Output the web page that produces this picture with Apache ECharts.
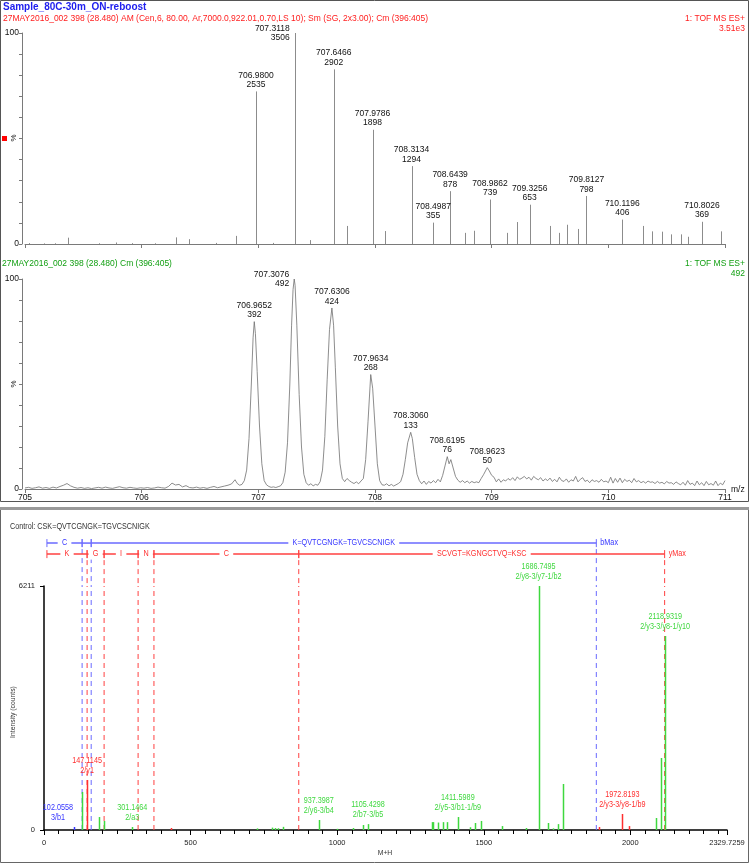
<!DOCTYPE html>
<html><head><meta charset="utf-8">
<script src="https://cdn.jsdelivr.net/npm/echarts@6/dist/echarts.min.js"></script>
<style>html,body{margin:0;padding:0;background:#fff}#c{width:750px;height:864px}</style>
</head><body><div id="c"></div><script>
const FONT = "'Liberation Sans', Arial, sans-serif";
const NARROW = "'Liberation Sans Narrow', 'Liberation Sans', Arial, sans-serif";
const NX = 0.85;

// ---------- top panel (centroided spectrum) ----------
const topBasePeak = 3506;
const topLabMz = [706.9800, 707.3118, 707.6466, 707.9786, 708.3134, 708.4987, 708.6439, 708.9862, 709.3256, 709.8127, 710.1196, 710.8026];
const topLabCounts = [2535, 3506, 2902, 1898, 1294, 355, 878, 739, 653, 798, 406, 369];
const topMinorMz = [705.034, 705.163, 705.257, 705.368, 705.634, 705.780, 705.917, 706.114, 706.294, 706.405, 706.637, 706.808, 707.125, 707.442, 707.759, 708.085, 708.770, 708.847, 709.130, 709.216, 709.499, 709.576, 709.644, 709.739, 710.296, 710.373, 710.459, 710.535, 710.621, 710.681, 710.964];
const topMinorCounts = [15, 10, 12, 105, 12, 25, 14, 12, 110, 80, 18, 135, 18, 65, 300, 215, 185, 220, 185, 365, 300, 185, 320, 250, 300, 210, 205, 160, 160, 120, 210];

// ---------- middle panel (profile spectrum, % of 492) ----------
const profBasePeak = 492;
const profLabMz = [706.9652, 707.3076, 707.6306, 707.9634, 708.3060, 708.6195, 708.9623];
const profLabCounts = [392, 492, 424, 268, 133, 76, 50];
const profileTrace = [
[705.00,0.5],[705.03,0.8],[705.06,0.3],[705.09,0.6],[705.12,1.0],[705.15,0.4],[705.18,0.7],[705.21,0.3],[705.24,0.9],[705.27,0.5],
[705.30,1.2],[705.33,1.8],[705.36,2.6],[705.39,1.5],[705.42,0.8],[705.45,0.4],[705.48,0.7],[705.51,0.3],[705.54,0.6],[705.57,0.2],
[705.60,0.5],[705.63,0.8],[705.66,0.4],[705.69,0.9],[705.72,0.5],[705.75,0.3],[705.78,0.7],[705.81,1.1],[705.84,0.6],[705.87,0.4],
[705.90,0.8],[705.93,0.5],[705.96,0.3],[705.99,0.6],[706.02,0.4],[706.05,0.7],[706.08,0.3],[706.11,0.5],[706.14,0.9],[706.17,0.6],
[706.20,0.4],[706.23,1.2],[706.26,2.8],[706.29,1.9],[706.32,2.2],[706.35,1.0],[706.38,1.6],[706.41,0.7],[706.44,0.5],[706.47,0.9],
[706.50,0.4],[706.53,0.7],[706.56,0.3],[706.59,0.8],[706.62,1.2],[706.65,0.6],[706.68,1.0],[706.71,1.4],[706.74,1.8],[706.77,2.4],
[706.80,4.4],[706.82,2.6],[706.84,1.8],[706.86,2.2],[706.88,4.0],[706.90,9],[706.92,24],[706.94,50],[706.955,72],[706.9652,79.7],
[706.975,74],[706.99,56],[707.01,30],[707.03,12],[707.05,4],[707.07,2.0],[707.09,1.2],[707.11,0.8],[707.13,1.0],[707.15,0.7],
[707.17,1.1],[707.19,1.5],[707.21,3],[707.23,8],[707.25,22],[707.27,50],[707.285,78],[707.2976,95],[707.3076,100],[707.315,97],
[707.33,78],[707.35,45],[707.37,20],[707.39,7],[707.41,3],[707.43,1.8],[707.45,2.5],[707.47,1.5],[707.49,2.2],[707.51,1.8],
[707.53,3.5],[707.55,9],[707.57,25],[707.59,52],[707.61,76],[707.6306,86.2],[707.645,78],[707.66,58],[707.68,30],[707.70,12],
[707.72,5],[707.74,3.5],[707.76,5],[707.78,4],[707.80,3.2],[707.82,2.6],[707.84,3.4],[707.86,2.5],[707.88,3.8],[707.90,5],
[707.92,14],[707.94,32],[707.9634,54.5],[707.98,48],[708.00,30],[708.02,12],[708.04,4],[708.06,2.0],[708.08,1.8],[708.10,2.5],
[708.12,1.5],[708.14,2.2],[708.16,1.4],[708.18,2.0],[708.20,2.6],[708.22,3.5],[708.24,7],[708.26,14],[708.28,22],[708.306,27],
[708.32,24],[708.34,15],[708.36,7],[708.38,4],[708.40,2.5],[708.42,3.8],[708.44,2.2],[708.46,3.6],[708.48,2.8],[708.50,4.0],
[708.52,3.0],[708.54,4.6],[708.56,3.4],[708.58,6.5],[708.60,11],[708.6195,15.4],[708.635,12],[708.65,14],[708.67,10],[708.69,6],
[708.71,4.2],[708.73,3.2],[708.75,4.0],[708.77,3.0],[708.79,3.8],[708.81,2.8],[708.83,3.6],[708.85,3.0],[708.87,3.4],[708.89,3.0],
[708.91,5.0],[708.93,6.8],[708.9623,10.2],[708.98,8.6],[709.00,6.5],[709.02,5.6],[709.04,3.4],[709.06,4.8],[709.08,3.2],[709.10,4.4],
[709.12,3.8],[709.14,5.0],[709.16,4.2],[709.18,5.4],[709.20,4.0],[709.22,5.8],[709.24,4.6],[709.26,5.2],[709.28,6.0],[709.30,4.8],
[709.32,5.6],[709.34,4.2],[709.36,6.0],[709.38,5.0],[709.40,4.4],[709.42,5.4],[709.44,3.8],[709.46,4.8],[709.48,4.0],[709.50,5.2],
[709.52,3.6],[709.54,4.6],[709.56,3.4],[709.58,5.6],[709.60,4.0],[709.62,3.6],[709.64,4.8],[709.66,3.2],[709.68,4.4],[709.70,3.8],
[709.72,6.0],[709.74,3.4],[709.76,4.6],[709.78,5.4],[709.80,3.6],[709.82,4.2],[709.84,3.0],[709.86,4.4],[709.88,3.6],[709.90,4.0],
[709.92,3.2],[709.94,4.6],[709.96,3.4],[709.98,3.8],[710.00,3.0],[710.02,5.6],[710.04,2.8],[710.06,5.0],[710.08,3.2],[710.10,5.2],
[710.12,3.0],[710.14,4.6],[710.16,3.6],[710.18,4.2],[710.20,3.0],[710.22,5.0],[710.24,3.4],[710.26,4.0],[710.28,3.0],[710.30,3.6],
[710.32,2.8],[710.34,3.8],[710.36,3.2],[710.38,3.4],[710.40,2.6],[710.42,3.6],[710.44,2.8],[710.46,3.2],[710.48,2.4],[710.50,3.6],
[710.52,2.8],[710.54,3.0],[710.56,2.2],[710.58,3.4],[710.60,2.6],[710.62,2.0],[710.64,3.2],[710.66,1.8],[710.68,4.0],[710.70,2.2],
[710.72,2.8],[710.74,1.6],[710.76,3.8],[710.78,2.0],[710.80,3.0],[710.82,1.6],[710.84,3.6],[710.86,2.0],[710.88,2.6],[710.90,1.8],
[710.92,3.8],[710.94,1.6],[710.96,2.8],[710.98,2.0],[711.00,4.0]
];

// ---------- bottom panel (fragment spectrum) ----------
const fragMax = 6211;
const massMax = 2329.7259;
const fragLabMz = [102.0558, 147.1145, 301.1464, 937.3987, 1105.4298, 1411.5989, 1686.7495, 1972.8193, 2118.9319];
const fragLabCounts = [76, 1273, 76, 254, 150, 330, 6211, 407, 4938];
const fragLabType = ['b', 'y', 'o', 'o', 'o', 'o', 'o', 'y', 'o'];
const fragLabAnno = ['3/b1', '2/y1', '2/a3', '2/y6-3/b4', '2/b7-3/b5', '2/y5-3/b1-1/b9', '2/y8-3/y7-1/b2', '2/y3-3/y8-1/b9', '2/y3-3/y8-1/y10'];
const otherGreenMz = [130, 187, 205, 726, 777, 787, 797, 815, 1000, 1055, 1087, 1324, 1328, 1343, 1360, 1373, 1452, 1470, 1489, 1561, 1643, 1718, 1736, 1753, 1770, 2087, 2104];
const otherGreenCounts = [967, 330, 230, 40, 60, 50, 45, 80, 30, 50, 127, 200, 200, 190, 200, 200, 70, 178, 230, 100, 50, 178, 40, 150, 1171, 305, 1833];
const otherRedMz = [432, 1892, 1994];
const otherRedCounts = [50, 76, 100];

// sequence coverage header
const seqTitle = 'Control: CSK=QVTCGNGK=TGVCSCNIGK';
const ladderStart = 10;
const bCuts = [130, 161, 1884];
const bSegLabels = ['C', '', 'K=QVTCGNGK=TGVCSCNIGK'];
const yCuts = [147, 205, 321, 375, 869, 2117];
const ySegLabels = ['K', 'G', 'I', 'N', 'C', 'SCVGT=KGNGCTVQ=KSC'];
const bEndLabel = 'bMax';
const yEndLabel = 'yMax';

const COLORS = { b: '#3434ff', y: '#ff2f2f', o: '#3fd83f' };
const LADDER = { b: '#6a6aff', y: '#ff4040' };

function stick(color, width) {
  return function (params, api) {
    const x = api.value(0), v = api.value(1);
    const p0 = api.coord([x, 0]), p1 = api.coord([x, v]);
    const px = Math.round(p0[0]) + 0.5;
    return { type: 'line', shape: { x1: px, y1: p0[1], x2: px, y2: p1[1] }, style: { stroke: color, lineWidth: width } };
  };
}

function peakLabel(base, pctMode) {
  return function (params, api) {
    const m = api.value(0), c = api.value(1);
    const pt = api.coord([m, pctMode ? c / base * 100 : c]);
    const isMax = c >= base;
    return {
      type: 'text',
      x: isMax ? pt[0] - 5 : pt[0],
      y: isMax ? pt[1] : pt[1] - 2,
      style: {
        text: m.toFixed(4) + '\n' + c,
        fill: '#111', font: '8.5px ' + FONT, lineHeight: 9.5,
        align: isMax ? 'right' : 'center', verticalAlign: isMax ? 'middle' : 'bottom'
      }
    };
  };
}

const topAll = topMinorMz.map((m, i) => [m, topMinorCounts[i]]).concat(topLabMz.map((m, i) => [m, topLabCounts[i]]));

// ladder segments
const ladderData = [];
[['b', bCuts], ['y', yCuts]].forEach(([t, cuts]) => {
  let prev = ladderStart;
  cuts.forEach((c, i) => { ladderData.push([prev, c, t === 'b' ? 0 : 1, i, i === cuts.length - 1 ? 1 : 0]); prev = c; });
});
const cutLines = bCuts.map(c => [c, 0]).concat(yCuts.map(c => [c, 1]));

const option = {
  animation: false,
  grid: [
    { left: 25, right: 25, top: 33, height: 211 },
    { left: 25, right: 25, top: 279, height: 210 },
    { left: 44, right: 23, top: 528, height: 58 },
    { left: 44, right: 23, top: 586, height: 244 }
  ],
  xAxis: [
    { gridIndex: 0, type: 'value', min: 705, max: 711, interval: 1, axisLine: { lineStyle: { color: '#7a7a7a' } }, axisTick: { length: 4, lineStyle: { color: '#7a7a7a' } }, axisLabel: { show: false }, splitLine: { show: false } },
    { gridIndex: 1, type: 'value', min: 705, max: 711, interval: 1, axisLine: { lineStyle: { color: '#7a7a7a' } }, axisTick: { length: 4, lineStyle: { color: '#7a7a7a' } }, axisLabel: { color: '#111', fontSize: 8.5, fontFamily: FONT, margin: 4 }, splitLine: { show: false } },
    { gridIndex: 2, type: 'value', min: 0, max: massMax, show: false },
    { gridIndex: 3, type: 'value', min: 0, max: massMax, interval: 500, axisLine: { lineStyle: { color: '#000', width: 1.5 } }, axisTick: { length: 5, lineStyle: { color: '#000' } }, axisLabel: { color: '#222', fontSize: 7.5, fontFamily: NARROW, margin: 9, showMaxLabel: true, formatter: v => (v > 2300 ? '2329.7259' : String(v)) }, splitLine: { show: false } },
    { gridIndex: 3, type: 'value', min: 0, max: massMax, interval: 50, position: 'bottom', axisLine: { show: false }, axisTick: { length: 4, lineStyle: { color: '#000' } }, axisLabel: { show: false }, splitLine: { show: false } }
  ],
  yAxis: [
    { gridIndex: 0, type: 'value', min: 0, max: topBasePeak, interval: topBasePeak / 10, offset: 3, axisLine: { show: true, lineStyle: { color: '#7a7a7a' } }, axisTick: { show: true, length: 3, lineStyle: { color: '#7a7a7a' } }, axisLabel: { color: '#111', fontSize: 8.5, fontFamily: FONT, margin: 3, formatter: v => (v < 1 ? '0' : (Math.abs(v - topBasePeak) < 1 ? '100' : '')) }, splitLine: { show: false } },
    { gridIndex: 1, type: 'value', min: 0, max: 100, interval: 10, offset: 3, axisLine: { show: true, lineStyle: { color: '#7a7a7a' } }, axisTick: { show: true, length: 3, lineStyle: { color: '#7a7a7a' } }, axisLabel: { color: '#111', fontSize: 8.5, fontFamily: FONT, margin: 3, formatter: v => (v === 0 ? '0' : (v === 100 ? '100' : '')) }, splitLine: { show: false } },
    { gridIndex: 2, type: 'value', min: 0, max: 1, show: false },
    { gridIndex: 3, type: 'value', min: 0, max: fragMax, interval: fragMax, axisLine: { show: true, lineStyle: { color: '#000', width: 1.5 } }, axisTick: { show: true, length: 4, lineStyle: { color: '#000' } }, axisLabel: { color: '#222', fontSize: 7.5, fontFamily: NARROW, margin: 9, formatter: v => String(v) }, splitLine: { show: false } }
  ],
  series: [
    { type: 'custom', xAxisIndex: 0, yAxisIndex: 0, data: topAll, renderItem: stick('#8c8c8c', 1), clip: true },
    { type: 'custom', xAxisIndex: 0, yAxisIndex: 0, data: topLabMz.map((m, i) => [m, topLabCounts[i]]), renderItem: peakLabel(topBasePeak, false), clip: false, z: 5 },
    { type: 'line', xAxisIndex: 1, yAxisIndex: 1, data: profileTrace, showSymbol: false, lineStyle: { color: '#707070', width: 0.8 } },
    { type: 'custom', xAxisIndex: 1, yAxisIndex: 1, data: profLabMz.map((m, i) => [m, profLabCounts[i]]), renderItem: peakLabel(profBasePeak, true), clip: false, z: 5 },
    { type: 'custom', xAxisIndex: 2, yAxisIndex: 2, data: ladderData, clip: false, z: 3,
      renderItem: function (params, api) {
        const from = api.value(0), to = api.value(1), row = api.value(2), idx = api.value(3), last = api.value(4);
        const t = row === 0 ? 'b' : 'y';
        const rowY = row === 0 ? 0.74 : 0.55;
        const a = api.coord([from, rowY]), b = api.coord([to, rowY]);
        const col = LADDER[t];
        const ch = [
          { type: 'line', shape: { x1: a[0], y1: a[1], x2: b[0], y2: b[1] }, style: { stroke: col, lineWidth: 1.5 } },
          { type: 'line', shape: { x1: a[0], y1: a[1] - 4, x2: a[0], y2: a[1] + 4 }, style: { stroke: col, lineWidth: 1 } },
          { type: 'line', shape: { x1: b[0], y1: b[1] - 4, x2: b[0], y2: b[1] + 4 }, style: { stroke: col, lineWidth: 1 } },
          { type: 'line', shape: { x1: b[0], y1: b[1] + 6, x2: b[0], y2: api.coord([to, 0])[1] }, style: { stroke: col, lineWidth: 1, lineDash: [5, 4] } }
        ];
        const lab = (t === 'b' ? bSegLabels : ySegLabels)[idx];
        if (lab) ch.push({ type: 'text', x: (a[0] + b[0]) / 2, y: a[1], scaleX: NX, style: { text: lab, fill: COLORS[t], font: '8.5px ' + NARROW, align: 'center', verticalAlign: 'middle', backgroundColor: '#fff', padding: [1, 5] } });
        if (last) ch.push({ type: 'text', x: b[0] + 4, y: b[1], scaleX: NX, style: { text: t === 'b' ? bEndLabel : yEndLabel, fill: COLORS[t], font: '8.5px ' + NARROW, align: 'left', verticalAlign: 'middle' } });
        return { type: 'group', children: ch };
      } },
    { type: 'custom', xAxisIndex: 3, yAxisIndex: 3, data: cutLines, clip: false, z: 1,
      renderItem: function (params, api) {
        const c = api.value(0), row = api.value(1);
        const p0 = api.coord([c, 0]), p1 = api.coord([c, fragMax]);
        return { type: 'line', shape: { x1: p0[0], y1: p0[1], x2: p1[0], y2: p1[1] }, style: { stroke: row === 0 ? LADDER.b : LADDER.y, lineWidth: 1, lineDash: [5, 4] } };
      } },
    { type: 'custom', xAxisIndex: 3, yAxisIndex: 3, data: otherGreenMz.map((m, i) => [m, otherGreenCounts[i]]), renderItem: stick(COLORS.o, 1.5), z: 2 },
    { type: 'custom', xAxisIndex: 3, yAxisIndex: 3, data: otherRedMz.map((m, i) => [m, otherRedCounts[i]]), renderItem: stick(COLORS.y, 1.5), z: 2 },
    { type: 'custom', xAxisIndex: 3, yAxisIndex: 3, data: fragLabMz.map((m, i) => [m, fragLabCounts[i], i]), clip: false, z: 4,
      renderItem: function (params, api) {
        const m = api.value(0), c = api.value(1), i = api.value(2);
        const t = fragLabType[i];
        const p0 = api.coord([m, 0]), p1 = api.coord([m, c]);
        const px = Math.round(p0[0]) + 0.5;
        const dx = i === 0 ? -16 : 0;
        return { type: 'group', children: [
          { type: 'line', shape: { x1: px, y1: p0[1], x2: px, y2: p1[1] }, style: { stroke: COLORS[t], lineWidth: 1.5 } },
          { type: 'text', x: p1[0] + dx, y: p1[1] - 4, scaleX: NX, style: { text: m.toFixed(4) + '\n' + fragLabAnno[i], fill: COLORS[t], font: '8.5px ' + NARROW, lineHeight: 10.5, align: 'center', verticalAlign: 'bottom' } }
        ] };
      } }
  ],
  graphic: [
    { type: 'rect', silent: true, shape: { x: 0.5, y: 0.5, width: 748, height: 501 }, style: { fill: 'none', stroke: '#555', lineWidth: 1 } },
    { type: 'rect', silent: true, shape: { x: 0.5, y: 508.5, width: 748, height: 354 }, style: { fill: 'none', stroke: '#666', lineWidth: 1 } },
    { type: 'line', silent: true, shape: { x1: 0, y1: 508.5, x2: 749, y2: 508.5 }, style: { stroke: '#9a9a9a', lineWidth: 3 } },
    { type: 'text', x: 3, y: 7.5, style: { text: 'Sample_80C-30m_ON-reboost', fill: '#2020ee', font: 'bold 10px ' + FONT, verticalAlign: 'middle' } },
    { type: 'text', x: 3, y: 18.5, style: { text: '27MAY2016_002 398 (28.480) AM (Cen,6, 80.00, Ar,7000.0,922.01,0.70,LS 10); Sm (SG, 2x3.00); Cm (396:405)', fill: '#ff2020', font: '8.5px ' + FONT, verticalAlign: 'middle' } },
    { type: 'text', x: 745, y: 18.5, style: { text: '1: TOF MS ES+', fill: '#ff2020', font: '8.5px ' + FONT, align: 'right', verticalAlign: 'middle' } },
    { type: 'text', x: 745, y: 29, style: { text: '3.51e3', fill: '#ff2020', font: '8.5px ' + FONT, align: 'right', verticalAlign: 'middle' } },
    { type: 'rect', shape: { x: 2, y: 136, width: 5, height: 5 }, style: { fill: '#ff0000' } },
    { type: 'text', x: 14, y: 138, rotation: Math.PI / 2, style: { text: '%', fill: '#111', font: '8px ' + FONT, align: 'center', verticalAlign: 'middle' } },
    { type: 'text', x: 2, y: 263.5, style: { text: '27MAY2016_002 398 (28.480) Cm (396:405)', fill: '#14a014', font: '8.5px ' + FONT, verticalAlign: 'middle' } },
    { type: 'text', x: 745, y: 264, style: { text: '1: TOF MS ES+', fill: '#14a014', font: '8.5px ' + FONT, align: 'right', verticalAlign: 'middle' } },
    { type: 'text', x: 745, y: 274, style: { text: '492', fill: '#14a014', font: '8.5px ' + FONT, align: 'right', verticalAlign: 'middle' } },
    { type: 'text', x: 14, y: 384, rotation: Math.PI / 2, style: { text: '%', fill: '#111', font: '8px ' + FONT, align: 'center', verticalAlign: 'middle' } },
    { type: 'text', x: 731, y: 490, style: { text: 'm/z', fill: '#111', font: '8.5px ' + FONT, align: 'left', verticalAlign: 'middle' } },
    { type: 'text', x: 10, y: 526.5, scaleX: NX, style: { text: seqTitle, fill: '#333', font: '8.5px ' + NARROW, verticalAlign: 'middle' } },
    { type: 'text', x: 13, y: 712, rotation: Math.PI / 2, scaleX: NX, style: { text: 'Intensity (counts)', fill: '#333', font: '8px ' + NARROW, align: 'center', verticalAlign: 'middle' } },
    { type: 'text', x: 385, y: 853, scaleX: NX, style: { text: 'M+H', fill: '#333', font: '8px ' + NARROW, align: 'center', verticalAlign: 'middle' } }
  ]
};
echarts.init(document.getElementById('c'), null, { renderer: 'canvas' }).setOption(option);
</script></body></html>
